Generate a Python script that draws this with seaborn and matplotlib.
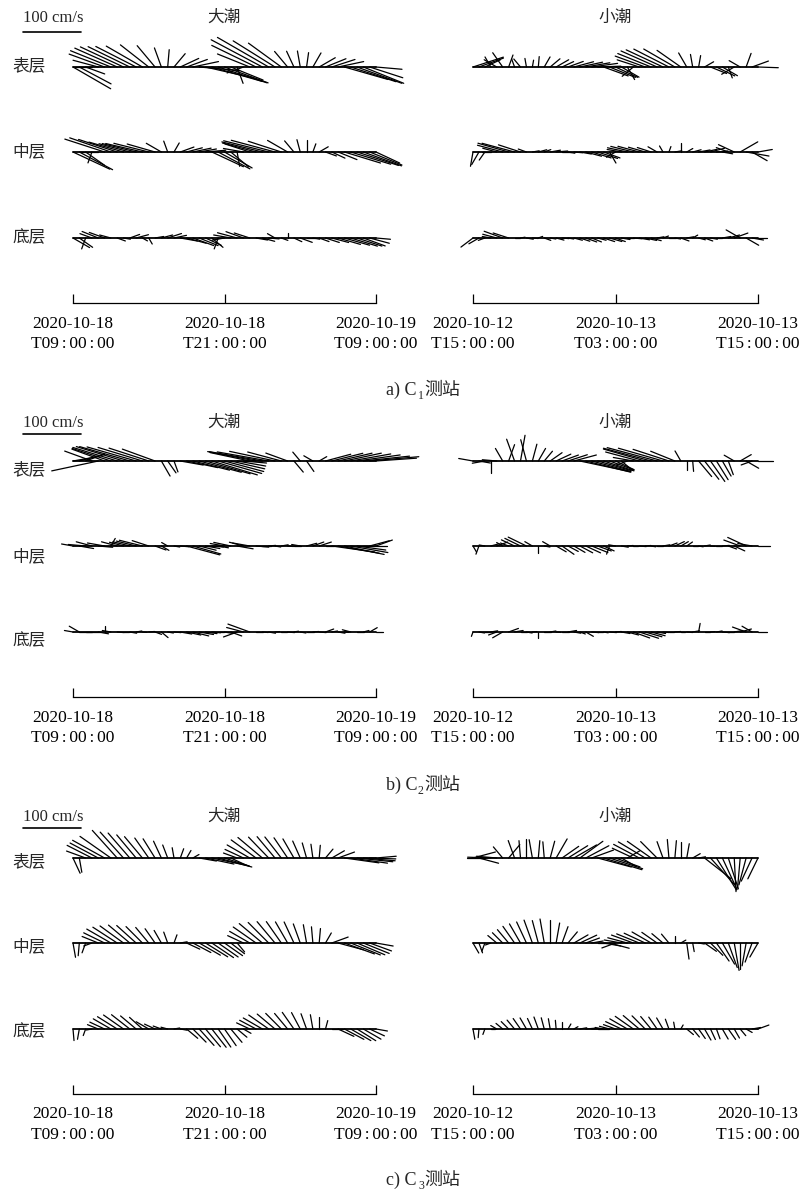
import numpy as np
import pandas as pd
import matplotlib
matplotlib.use("Agg")
import matplotlib.pyplot as plt
import seaborn as sns

# =====================================================
# DATA  (half-hourly samples, speed cm/s, direction deg from north)
# =====================================================

hours = np.arange(0, 24.5, 0.5)

SP = "\u2006"
left_ticks = ["2020-10-18\nT09" + SP + ":" + SP + "00" + SP + ":" + SP + "00",
              "2020-10-18\nT21" + SP + ":" + SP + "00" + SP + ":" + SP + "00",
              "2020-10-19\nT09" + SP + ":" + SP + "00" + SP + ":" + SP + "00"]
right_ticks = ["2020-10-12\nT15" + SP + ":" + SP + "00" + SP + ":" + SP + "00",
               "2020-10-13\nT03" + SP + ":" + SP + "00" + SP + ":" + SP + "00",
               "2020-10-13\nT15" + SP + ":" + SP + "00" + SP + ":" + SP + "00"]
layer_names = ["表层", "中层", "底层"]
tide_names = ["大潮", "小潮"]
captions = ["a) C", "b) C", "c) C"]
station_nums = ["1", "2", "3"]

# ---- C1 ----
c1_spring_sur_spd = [75,62,35,30,45, 65,75,80,82,80,78,72,62,48, 35,30,30, 35,38,45, 70,85,90,88,80,60, 30,30, 60,85,100,102,85,70, 35,30,28,25,28, 32,38,42,45, 78,82,82,75,60,45]
c1_spring_sur_dir = [120,118,110,270,285, 290,292,294,295,296,297,300,308,320, 340,5,40, 65,70,78, 95,103,106,108,110,112, 160,250, 292,296,298,300,302,306, 320,335,350,8,30, 60,68,72,78, 106,108,110,112,108,95]
c1_spring_mid_spd = [70,65,40, 20,30, 72,75,70,62,55,60,65,62,50, 30,20,18, 25,28,32,30,35, 60,62,55,40,25, 35,45, 60,72,80,78,60,40, 25,22,20,15,18, 20,25,35, 65,72,75,70,60,45]
c1_spring_mid_dir = [115,118,125, 200,270, 288,289,288,286,285,284,283,284,286, 300,340,30, 70,75,78,80,85, 115,118,120,130,170, 280,288, 285,284,284,285,288,300, 320,345,0,20,60, 110,115,112, 107,107,108,110,112,115]
c1_spring_bot_spd = [33,28,20, 22,30,28,20, 15,12,18,22,10,12,15,20,25,22, 30,35,38,35,30,25,20,22,30,35, 32,28,20,22,18,15,12, 8,15,22,15,12,18,25,30, 40,45,48,45,40,35,25]
c1_spring_bot_dir = [120,125,200, 290,292,290,285, 110,100,70,75,120,150,80,75,72,78, 100,105,110,112,115,130,200,260,280,285, 290,288,100,105,95,300,110, 0,115,110,90,100,110,108,105, 106,106,107,108,110,105,95]

c1_neap_sur_spd = [55,45,30, 20,25,30,22,15, 18,15,12,18,20,22,25,22,28, 35,40,42,45,40, 45,48,42,35,25, 25, 40,55,62,68,70,68,62,50, 28,22,20, 18,30,35, 30,20,25,22,25,30,35]
c1_neap_sur_dir = [72,70,65, 330,300,325,20,340, 320,350,10,5,30,50,60,65,70, 75,78,80,82,88, 110,112,115,120,150, 230, 288,290,292,294,295,297,300,305, 330,350,10, 60,112,116, 120,160,240,300,20,70,92]
c1_neap_mid_spd = [25,25,17, 15,25, 45,55,58,40, 15,12,15,12,18,20,15,12, 15,20,28,35, 36,30,22,18,25, 35,40,38,30,25,18,12, 10,12,15,12,15,20, 22,25,20,18,22,30, 35,40,30,25]
c1_neap_mid_dir = [190,210,215, 270,285, 285,286,285,288, 290,80,75,70,80,85,90,100, 95,100,105,107, 108,110,150,240,280, 282,284,285,286,288,300,330, 20,80,0,60,75,80, 78,75,85,100,290,295, 60,100,120,80]
c1_neap_bot_spd = [26,20,12, 15,25,34,28, 10,8,12,10,8,12,10,14,12,10, 15,18,20,18,15,20,22,18,15,12, 15,18,20,18,12,10,12, 10,15,12,10,12,15,12,10, 15,20,25,28,25,20,15]
c1_neap_bot_dir = [233,240,250, 280,285,290,288, 90,80,100,95,70,110,100,105,95,100, 105,108,110,112,105,108,106,110,100,90, 95,100,102,105,80,70,90, 100,110,80,60,105,110,100,90, 80,75,70,300,120,100,90]

# ---- C2 ----
c2_spring_sur_spd = [40,45,35,50, 82, 60,70,80,85,90,88,80,72,60, 30,25,20, 40,55,65, 75,80,82,78,70,60,50,40, 70,85,93,90,80,60,40, 25,20,22,18,15, 45,55,60,65,70,75,80,85,70]
c2_spring_sur_dir = [80,75,70,290, 258, 290,288,287,287,286,286,287,288,290, 150,145,160, 100,102,104, 105,106,107,106,105,103,100,95, 282,281,280,280,282,285,290, 140,320,145,300,60, 75,76,77,78,80,82,84,85,86]
c2_spring_mid_spd = [20,25,30,28,25,30,15,28, 25,30,35,41,30,20, 15,12,10,15, 59,50,30,25,20,18, 25,30,28,25,30,22,15,12, 10,12,10,12,15,18,20,22,15, 75,72,70,65,50,40,35,30]
c2_spring_mid_dir = [280,100,275,285,95,280,30,285, 285,284,284,284,288,110, 120,300,100,95, 105,106,104,100,95,100, 280,282,100,285,280,95,90,85, 100,80,95,90,280,75,70,72,90, 98,100,102,100,98,90,75,70]
c2_spring_bot_spd = [15,20,25,22,18,10,15,12, 10,12,10,8,10,12,15,10, 12,20,25,28,25,20,15,10, 15,20,25,30,40, 12,10,12,8,10,12,8,10,12,10, 12,15,10,12,8,15,12,10,15,12]
c2_spring_bot_dir = [280,300,90,270,100,0,280,95, 90,100,80,95,85,110,130,100, 95,100,102,104,100,98,95,90, 100,110,250,285,290, 90,95,100,85,90,95,80,100,90,85, 95,70,80,100,95,285,90,75,60,90]

c2_neap_sur_spd = [25,20,22,20,25, 25,30,40,45,38,30,25,22,25,28,30,35,40, 88,80,70,60,55,45,35,25, 20,35, 60,75,85,89,80,65,45, 20,15,18, 35,40,43,38,30,25, 20,22,25,20,25]
c2_neap_sur_dir = [280,100,260,180,275, 330,20,340,10,345,15,30,40,55,65,70,72,75, 102,104,105,106,108,110,115,130, 250,280, 285,286,285,285,286,288,292, 330,180,175, 140,142,145,148,150,160, 300,60,120,250,90]
c2_neap_mid_spd = [12,15,10,15,20, 12,15,25,30,35,15, 12,10,15,20,25, 20,22,25,28,30,25,20,15,12, 12,10,8,12,10,8,10,12, 15,18,15,12,10,8, 10,8,10,12,15,20, 30,35,25,20]
c2_neap_mid_dir = [150,200,280,75,70, 300,290,295,296,296,300, 180,100,300,120,125, 118,120,118,115,112,110,115,200,280, 100,85,90,95,85,100,90,80, 70,65,60,55,90,100, 80,95,90,85,110,115, 290,295,280,90]
c2_neap_bot_spd = [8,10,8,12,15,20,18, 15,12,10,8,10,12,10, 8,12,15,12,10,15,12, 10,8,12,10,15,20,30, 35,30,25,15,10,8,10, 8,10,12,15,10,8,10, 12,10,15,20,25,20,15]
c2_neap_bot_dir = [200,100,90,80,250,240,70, 80,90,100,85,180,90,80, 95,90,80,100,110,120,95, 90,100,95,85,100,105,110, 108,106,105,100,95,90,85, 90,95,80,10,90,85,80, 95,90,80,75,290,300,90]

# ---- C3 ----
c3_spring_sur_spd = [29,25, 35,48,55,63,65,64,60,57,52,48,42,39,32,24,18, 17,15,12, 30,50,65,60,45,30, 25,35,45,53,55,50,48,46,42,38,32,27,24,22, 20,25,30, 60,64,62,55,45,35]
c3_spring_sur_dir = [155,170, 290,297,298,299,305,318,318,319,320,320,325,328,335,339,350, 20,30,60, 100,102,102,105,108,115, 290,295,300,306,310,316,320,322,326,330,336,344,352,5, 40,60,70, 98,98,96,95,92,85]
c3_spring_mid_spd = [25,22,18,15, 30,40,48,50,50,48,45,40,35,30,25,20, 15,12, 25,35,42,45,45,42,38,30,20, 30,40,48,52,50,48,45,42,40,35,32,28,25,20, 30,45,55,55,52,48,40,30]
c3_spring_mid_dir = [170,185,200,250, 292,296,300,303,306,310,312,315,320,325,330,340, 20,80, 115,118,120,122,124,125,125,128,140, 295,300,305,310,315,320,325,330,335,340,350,355,5,30, 70,105,110,112,113,112,110,100]
c3_spring_bot_spd = [20,18,12,10, 20,28,35,40,42,40,35,30,25,20,15,12, 10,12, 25,32,38,40,40,38,35,30,22,15, 25,32,38,42,40,38,35,35,32,28,25,20,15, 20,30,38,40,38,35,28,20]
c3_spring_bot_dir = [175,190,200,260, 292,295,300,302,305,308,310,312,300,295,290,285, 80,100, 130,135,138,140,142,145,145,140,130,120, 295,298,300,305,310,315,320,325,332,340,350,0,15, 90,115,118,120,122,120,115,100]

c3_neap_sur_spd = [40,35,30,40,35, 25,30,32,30,32,32,30,28,30,38, 35,40,45,49,45,40, 60,69,60,45,30,25, 40,50,54,50,40,30,32,30, 28,25,15,12, 58,62,65,60,56,58,52,48,44,40]
c3_neap_sur_dir = [75,105,270,272,275, 320,40,340,355,0,350,5,355,15,30, 55,58,60,54,62,70, 105,107,108,110,120,60, 295,298,301,305,315,340,355,5, 0,10,60,80, 128,138,148,155,162,177,185,195,205,206]
c3_neap_mid_spd = [20,18,15,10, 20,25,30,35,38,40,42,40,42,40,35,30,25, 28,32,25,20,15, 30,35,25,30,35, 40,42,40,38,32,25,20, 12,10,28,15,10, 25,30,38,42,45,48,45,40,35,28]
c3_neap_mid_dir = [150,160,200,250, 310,315,320,325,330,335,340,345,350,0,10,20,40, 60,65,70,80,90, 100,105,250,280,285, 290,292,295,300,305,310,320, 0,60,172,170,100, 125,135,145,150,160,170,180,190,200,210]
c3_neap_bot_spd = [18,15,10,8, 12,15,18,20,22,22,20,22,20,18,15,12,10,8, 12,15,18,20,15,18,22, 30,35,38,36,32,28,25,22,18,12,8, 15,18,20,22,20,18,20,22,18,15,12,15,20]
c3_neap_bot_dir = [170,185,200,90, 300,310,315,320,325,330,335,340,345,350,355,0,30,60, 80,85,88,90,280,285,290, 295,300,305,310,315,320,325,330,340,350,30, 130,140,145,150,155,160,150,145,150,140,120,80,70]

# =====================================================
# LAYOUT (pixels)
# =====================================================

W, H = 802, 1197
PX_PER_CMS = 0.58          # 100 cm/s -> 58 px
AX_H = 270
axis_y = [303, 697, 1094]
row_off = [236, 151, 65]
ax_x = [(73, 303), (473, 285)]
title_y = [18, 423, 817]
bar_y = [32, 434, 828]
label_y = [[66, 152, 238], [470, 557, 641], [862, 947, 1032]]
caption_y = [390, 785, 1180]

panels = [
    [[(c1_spring_sur_spd, c1_spring_sur_dir), (c1_spring_mid_spd, c1_spring_mid_dir), (c1_spring_bot_spd, c1_spring_bot_dir)],
     [(c1_neap_sur_spd, c1_neap_sur_dir), (c1_neap_mid_spd, c1_neap_mid_dir), (c1_neap_bot_spd, c1_neap_bot_dir)]],
    [[(c2_spring_sur_spd, c2_spring_sur_dir), (c2_spring_mid_spd, c2_spring_mid_dir), (c2_spring_bot_spd, c2_spring_bot_dir)],
     [(c2_neap_sur_spd, c2_neap_sur_dir), (c2_neap_mid_spd, c2_neap_mid_dir), (c2_neap_bot_spd, c2_neap_bot_dir)]],
    [[(c3_spring_sur_spd, c3_spring_sur_dir), (c3_spring_mid_spd, c3_spring_mid_dir), (c3_spring_bot_spd, c3_spring_bot_dir)],
     [(c3_neap_sur_spd, c3_neap_sur_dir), (c3_neap_mid_spd, c3_neap_mid_dir), (c3_neap_bot_spd, c3_neap_bot_dir)]],
]

# =====================================================
# STYLE
# =====================================================

sns.set_theme(style="white")
plt.rcParams["font.family"] = ["Liberation Serif", "DejaVu Serif", "Noto Sans CJK SC"]
plt.rcParams["axes.unicode_minus"] = False

fig = plt.figure(figsize=(W / 100, H / 100), dpi=100)


def ftext(x, y, s, **kw):
    fig.text(x / W, 1 - y / H, s, **kw)


def stick_frame(rows, px_per_hour):
    frames = []
    uid = 0
    for (spd, direc), off in zip(rows, row_off):
        spd = np.asarray(spd, float)
        th = np.deg2rad(np.asarray(direc, float))
        u = spd * np.sin(th)
        v = spd * np.cos(th)
        x1 = hours + u * PX_PER_CMS / px_per_hour
        y1 = off + v * PX_PER_CMS
        ids = np.arange(len(hours)) + uid
        uid += len(hours)
        frames.append(pd.DataFrame({
            "x": np.r_[hours, x1],
            "y": np.r_[np.full(len(hours), float(off)), y1],
            "uid": np.r_[ids, ids],
        }))
    return pd.concat(frames, ignore_index=True)


# =====================================================
# DRAW
# =====================================================

for p, tides in enumerate(panels):
    for k, rows in enumerate(tides):
        x0, w = ax_x[k]
        ax = fig.add_axes([x0 / W, (H - axis_y[p]) / H, w / W, AX_H / H])
        ax.patch.set_alpha(0)
        pxh = w / 24.0

        seg = stick_frame(rows, pxh)
        sns.lineplot(data=seg, x="x", y="y", units="uid", estimator=None,
                     sort=False, color="black", linewidth=0.9, ax=ax,
                     legend=False, clip_on=False)

        # baselines
        for off in row_off:
            ax.plot([hours[0], hours[-1]], [off, off], color="black",
                    lw=1.3, clip_on=False)

        ax.set_xlim(0, 24)
        ax.set_ylim(0, AX_H)
        ax.set_xlabel("")
        ax.set_ylabel("")
        ax.set_yticks([])
        ax.set_xticks([0, 12, 24])
        ax.set_xticklabels(left_ticks if k == 0 else right_ticks,
                           linespacing=1.35)
        ax.tick_params(axis="x", direction="in", length=6.5, width=0.9,
                       color="black", pad=9, labelsize=12.5,
                       labelcolor="black", bottom=True)
        for s in ["top", "right", "left"]:
            ax.spines[s].set_visible(False)
        ax.spines["bottom"].set_color("black")
        ax.spines["bottom"].set_linewidth(0.9)

        ftext(224 if k == 0 else 615, title_y[p], tide_names[k],
              ha="center", va="center", fontsize=12)

        if k == 0:
            # 100 cm/s scale bar in the same units as the sticks
            bx = (23 - x0) / pxh
            by = axis_y[p] - bar_y[p]
            ax.plot([bx, bx + 100 * PX_PER_CMS / pxh], [by, by],
                    color="black", lw=1.2, clip_on=False)
            ftext(23, title_y[p], "100 cm/s", ha="left", va="center",
                  fontsize=12)
            for j, name in enumerate(layer_names):
                ftext(29, label_y[p][j], name, ha="center", va="center",
                      fontsize=12)

    # caption
    ftext(417, caption_y[p], captions[p], ha="right", va="center",
          fontsize=13)
    ftext(418, caption_y[p] + 6, station_nums[p], ha="left", va="center",
          fontsize=8.5)
    ftext(424, caption_y[p], "测站", ha="left", va="center", fontsize=13)

fig.savefig("out.png", dpi=100)
